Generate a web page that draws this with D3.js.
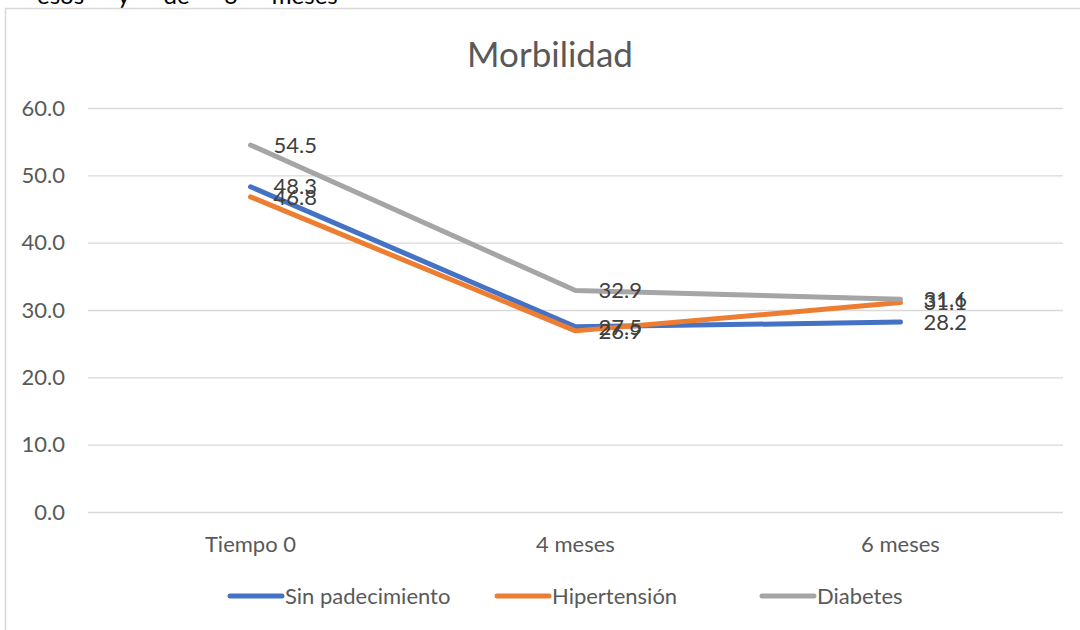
<!DOCTYPE html>
<html>
<head>
<meta charset="utf-8">
<script src="https://cdn.jsdelivr.net/npm/d3@7"></script>
<style>
  body { margin: 0; background: #fff; }
  text { font-family: Lato, "Open Sans", sans-serif; }
</style>
</head>
<body>
<div id="chart"></div>
<script>
// Morbilidad: line chart, three groups over time

const categories = ["Tiempo 0", "4 meses", "6 meses"];
const seriesNames = ["Sin padecimiento", "Hipertensión", "Diabetes"];
const sinPadecimiento = [48.3, 27.5, 28.2];
const hipertension = [46.8, 26.9, 31.1];
const diabetes = [54.5, 32.9, 31.6];
const yTicks = [0, 10, 20, 30, 40, 50, 60];

const colors = ["#4472C4", "#ED7D31", "#A5A5A5"];
const seriesValues = [sinPadecimiento, hipertension, diabetes];

const W = 1080, H = 630;
const margin = {top: 108, right: 17, bottom: 118, left: 88};
const width = W - margin.left - margin.right,
    height = H - margin.top - margin.bottom;

const svg = d3.select("#chart")
  .append("svg")
  .attr("width", W)
  .attr("height", H);

// clipped caption text of the document above the chart
svg.append("text")
  .attr("x", 37)
  .attr("y", 4)
  .style("font-size", "24px")
  .style("word-spacing", "28px")
  .style("fill", "#000")
  .text("esos y de 6 meses");

// chart frame (runs past right and bottom edges)
svg.append("rect")
  .attr("x", 5.5)
  .attr("y", 8.5)
  .attr("width", W + 10)
  .attr("height", H + 10)
  .attr("fill", "#fff")
  .attr("stroke", "#d9d9d9")
  .attr("stroke-width", 1.5);

const g = svg.append("g")
  .attr("transform", `translate(${margin.left}, ${margin.top})`);

const x = d3.scaleBand()
  .domain(categories)
  .range([0, width]);

const y = d3.scaleLinear()
  .domain([0, 60])
  .range([height, 0]);

// gridlines
g.selectAll("line.grid")
  .data(yTicks)
  .join("line")
  .attr("class", "grid")
  .attr("x1", 0)
  .attr("x2", width)
  .attr("y1", d => y(d) + 0.5)
  .attr("y2", d => y(d) + 0.5)
  .attr("stroke", "#d9d9d9")
  .attr("stroke-width", 1.3);

// y labels
g.selectAll("text.ylab")
  .data(yTicks)
  .join("text")
  .attr("class", "ylab")
  .attr("x", -23)
  .attr("y", d => y(d))
  .attr("dy", "0.35em")
  .attr("text-anchor", "end")
  .style("font-size", "22px")
  .style("fill", "#595959")
  .text(d => d.toFixed(1));

// x labels
g.selectAll("text.xlab")
  .data(categories)
  .join("text")
  .attr("class", "xlab")
  .attr("x", d => x(d) + x.bandwidth() / 2)
  .attr("y", height + 40)
  .attr("text-anchor", "middle")
  .style("font-size", "22px")
  .style("fill", "#595959")
  .text(d => d);

// lines
const line = d3.line()
  .x((d, i) => x(categories[i]) + x.bandwidth() / 2)
  .y(d => y(d));

seriesValues.forEach((vals, s) => {
  g.append("path")
    .datum(vals)
    .attr("d", line)
    .attr("fill", "none")
    .attr("stroke", colors[s])
    .attr("stroke-width", 5)
    .attr("stroke-linecap", "round")
    .attr("stroke-linejoin", "round");
});

// data labels
seriesValues.forEach((vals, s) => {
  g.selectAll("text.lab" + s)
    .data(vals)
    .join("text")
    .attr("class", "lab" + s)
    .attr("x", (d, i) => x(categories[i]) + x.bandwidth() / 2 + 23)
    .attr("y", d => y(d))
    .attr("dy", "0.35em")
    .style("font-size", "22px")
    .style("fill", "#404040")
    .text(d => d.toFixed(1));
});

// title
svg.append("text")
  .attr("x", 550)
  .attr("y", 67)
  .attr("text-anchor", "middle")
  .style("font-size", "35px")
  .style("fill", "#595959")
  .text("Morbilidad");

// legend
const legendX = [230, 497, 762];
const legend = svg.selectAll("g.legend")
  .data(seriesNames)
  .join("g")
  .attr("class", "legend")
  .attr("transform", (d, i) => `translate(${legendX[i]}, 596)`);

legend.append("line")
  .attr("x1", 0)
  .attr("x2", 52)
  .attr("stroke", (d, i) => colors[i])
  .attr("stroke-width", 5)
  .attr("stroke-linecap", "round");

legend.append("text")
  .attr("x", 55)
  .attr("dy", "0.35em")
  .style("font-size", "22px")
  .style("fill", "#595959")
  .text(d => d);
</script>
</body>
</html>
